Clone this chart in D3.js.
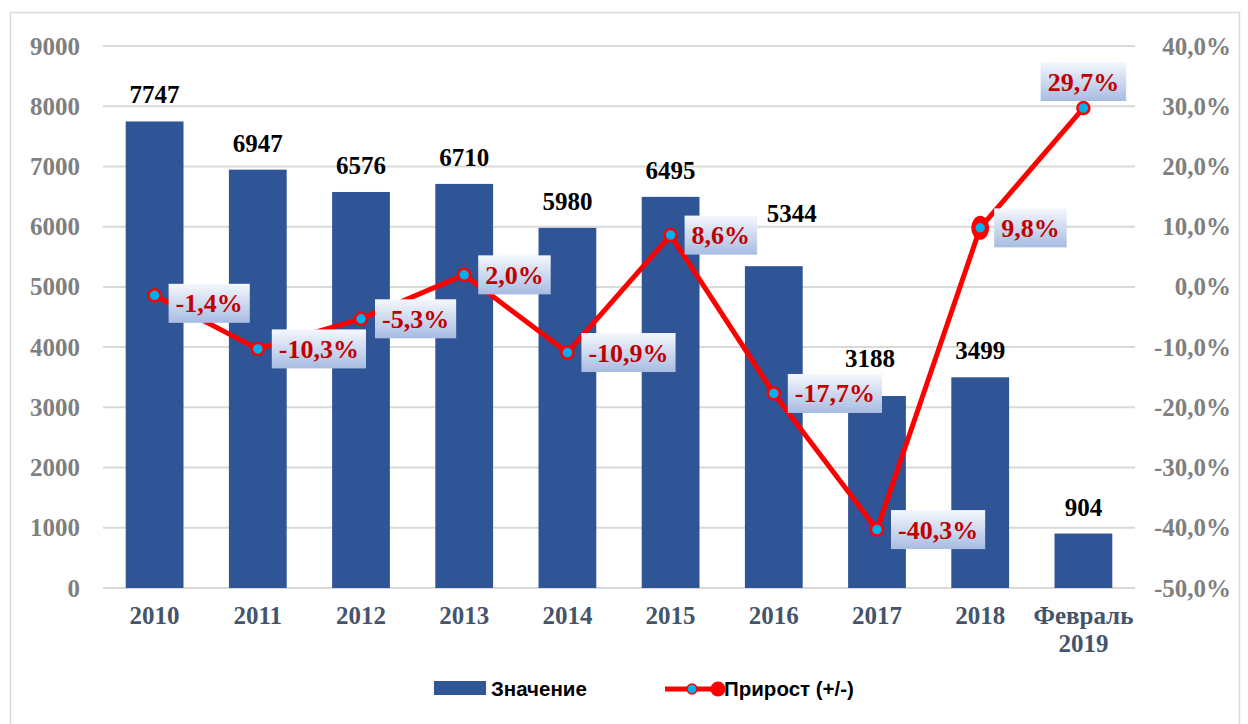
<!DOCTYPE html>
<html>
<head>
<meta charset="utf-8">
<script src="https://cdn.jsdelivr.net/npm/d3@7"></script>
<style>
  body { margin: 0; background: #ffffff; }
  svg { display: block; }
</style>
</head>
<body>
<div id="chart"></div>
<script>
// data
const categories = ["2010", "2011", "2012", "2013", "2014", "2015", "2016", "2017", "2018", "Февраль 2019"];
const values = [7747, 6947, 6576, 6710, 5980, 6495, 5344, 3188, 3499, 904];
const growth = [-1.4, -10.3, -5.3, 2.0, -10.9, 8.6, -17.7, -40.3, 9.8, 29.7];
const leftTicks = [0, 1000, 2000, 3000, 4000, 5000, 6000, 7000, 8000, 9000];
const rightTicks = [-50, -40, -30, -20, -10, 0, 10, 20, 30, 40];
const seriesNames = ["Значение", "Прирост (+/-)"];

// manual nudges of a couple of value labels (as in the original)
const valueLabelShift = { 6: [18, -26], 7: [-7, -11] };

const width = 1248, height = 724;
const plot = { left: 103, right: 1135, top: 46, bottom: 588 };
const serif = "'Liberation Serif', 'Times New Roman', serif";
const sans = "'Liberation Sans', Arial, sans-serif";

const ru = d3.formatLocale({ decimal: ",", thousands: "", grouping: [3], currency: ["", ""], minus: "-" });
const pct = ru.format(".1f");

const svg = d3.select("#chart").append("svg").attr("width", width).attr("height", height);

const defs = svg.append("defs");
const grad = defs.append("linearGradient").attr("id", "lblGrad").attr("x1", 0).attr("y1", 0).attr("x2", 0).attr("y2", 1);
grad.append("stop").attr("offset", "0%").attr("stop-color", "#f5f7fc");
grad.append("stop").attr("offset", "100%").attr("stop-color", "#a7bce2");

svg.append("rect").attr("x", 10.5).attr("y", 12.5).attr("width", 1229).attr("height", 720)
    .attr("fill", "#fff").attr("stroke", "#d9d9d9").attr("stroke-width", 1.5);

const x = d3.scaleBand().domain(categories).range([plot.left, plot.right]).paddingInner(0.44).paddingOuter(0.22);
const y = d3.scaleLinear().domain([0, 9000]).range([plot.bottom, plot.top]);
const y2 = d3.scaleLinear().domain([-50, 40]).range([plot.bottom, plot.top]);

// gridlines
svg.append("g").selectAll("line").data(leftTicks).join("line")
    .attr("x1", plot.left).attr("x2", plot.right)
    .attr("y1", d => y(d)).attr("y2", d => y(d))
    .attr("stroke", "#d9d9d9").attr("stroke-width", 2);

// left axis
const leftAxis = svg.append("g").attr("transform", `translate(${plot.left},0)`)
    .call(d3.axisLeft(y).tickValues(leftTicks).tickSize(0).tickPadding(23).tickFormat(d3.format("d")));
leftAxis.select(".domain").remove();
leftAxis.selectAll("text").attr("fill", "#7f7f7f").style("font", `bold 25px ${serif}`);

// right axis
const rightAxis = svg.append("g").attr("transform", `translate(${plot.right},0)`)
    .call(d3.axisRight(y2).tickValues(rightTicks).tickSize(0).tickFormat(d => pct(d) + "%"));
rightAxis.select(".domain").remove();
rightAxis.selectAll("text").attr("fill", "#7f7f7f").attr("text-anchor", "end").attr("x", 96)
    .style("font", `bold 25px ${serif}`);

// bars
svg.append("g").selectAll("rect").data(values).join("rect")
    .attr("x", (d, i) => x(categories[i])).attr("width", x.bandwidth())
    .attr("y", d => y(d)).attr("height", d => plot.bottom - y(d))
    .attr("fill", "#2f5597");

// bottom category labels
const xAxis = svg.append("g").attr("transform", `translate(0,${plot.bottom})`)
    .call(d3.axisBottom(x).tickSize(0).tickFormat(""));
xAxis.select(".domain").remove();
xAxis.selectAll(".tick").each(function(d) {
    const t = d3.select(this).append("text").attr("fill", "#44546a").attr("text-anchor", "middle")
        .style("font", `bold 25px ${serif}`);
    d.split(" ").forEach((part, k) => {
        t.append("tspan").attr("x", 0).attr("y", 36 + k * 28).text(part);
    });
});

// value labels
svg.append("g").selectAll("text").data(values).join("text")
    .attr("x", (d, i) => x(categories[i]) + x.bandwidth() / 2 + (valueLabelShift[i] ? valueLabelShift[i][0] : 0))
    .attr("y", (d, i) => y(d) - 18 + (valueLabelShift[i] ? valueLabelShift[i][1] : 0))
    .attr("text-anchor", "middle").attr("fill", "#000")
    .style("font", `bold 25px ${serif}`)
    .text(d => d);

// growth line
const cx = i => x(categories[i]) + x.bandwidth() / 2;
const line = d3.line().x((d, i) => cx(i)).y(d => y2(d));
svg.append("path").datum(growth).attr("d", line)
    .attr("fill", "none").attr("stroke", "#ff0000").attr("stroke-width", 5).attr("stroke-linejoin", "round");

// highlighted point (2018)
svg.append("ellipse").attr("cx", cx(8)).attr("cy", y2(growth[8])).attr("rx", 9).attr("ry", 12).attr("fill", "#ff0000");

svg.append("g").selectAll("circle").data(growth).join("circle")
    .attr("cx", (d, i) => cx(i)).attr("cy", d => y2(d)).attr("r", 6)
    .attr("fill", "#00b0f0").attr("stroke", "#ff0000").attr("stroke-width", 2.5);

// growth labels
const lblG = svg.append("g");
growth.forEach((d, i) => {
    const px = cx(i), py = y2(d);
    const g = lblG.append("g");
    const t = g.append("text").attr("fill", "#c00000").attr("text-anchor", "middle")
        .style("font", `bold 26px ${serif}`).text(pct(d) + "%");
    const w = t.node().getComputedTextLength() + 14, h = 39;
    let bx, by;
    if (i === growth.length - 1) { bx = px - w / 2; by = py - 7 - h; }
    else { bx = px + 14; by = py - h / 2 + (i === 0 ? 8 : 0); }
    g.insert("rect", "text").attr("x", bx).attr("y", by).attr("width", w).attr("height", h).attr("fill", "url(#lblGrad)");
    t.attr("x", bx + w / 2).attr("y", by + h / 2 + 9);
});

// legend
const leg = svg.append("g");
leg.append("rect").attr("x", 434).attr("y", 681).attr("width", 52).attr("height", 14).attr("fill", "#2f5597");
leg.append("text").attr("x", 491).attr("y", 696).attr("fill", "#000").style("font", `bold 20.5px ${sans}`).text(seriesNames[0]);
leg.append("line").attr("x1", 665).attr("x2", 718).attr("y1", 689).attr("y2", 689).attr("stroke", "#ff0000").attr("stroke-width", 5);
leg.append("circle").attr("cx", 718).attr("cy", 689).attr("r", 7.5).attr("fill", "#ff0000");
leg.append("circle").attr("cx", 692).attr("cy", 689).attr("r", 5).attr("fill", "#00b0f0").attr("stroke", "#ff0000").attr("stroke-width", 1.5);
leg.append("text").attr("x", 724).attr("y", 696).attr("fill", "#000").style("font", `bold 20.5px ${sans}`).text(seriesNames[1]);
</script>
</body>
</html>
